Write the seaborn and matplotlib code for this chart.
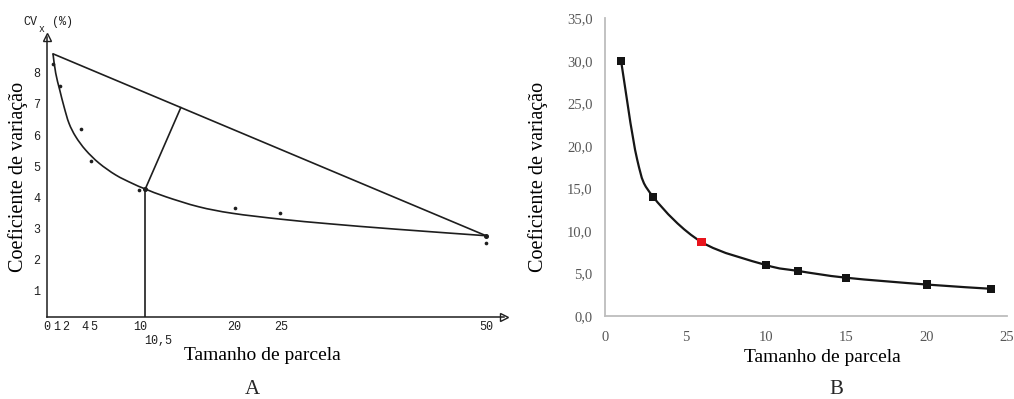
import numpy as np
import matplotlib
matplotlib.use("Agg")
import matplotlib.pyplot as plt
from matplotlib.path import Path
from matplotlib.patches import PathPatch
import seaborn as sns

# ---------------- Panel A: maximum-curvature method (typewritten scan) ----------------
a_plot_size = [0.64, 1.39, 3.67, 4.67, 9.83, 20.05, 24.9, 50.0]
a_cv = [8.27, 7.58, 6.19, 5.17, 4.24, 3.65, 3.49, 2.55]

# fitted CV curve
a_curve_x = [0.64, 0.93, 1.36, 1.82, 2.35, 3.07, 4.13, 5.56, 7.34, 9.11, 10.5,
             12.7, 16.2, 19.8, 25.0, 31.0, 39.0, 50.0]
a_curve_y = [8.61, 7.99, 7.45, 6.91, 6.38, 5.95, 5.52, 5.10, 4.72, 4.45, 4.27,
             4.02, 3.70, 3.49, 3.30, 3.15, 2.98, 2.77]

a_opt_x = 10.5          # optimum plot size
a_opt_cv = 4.27
a_chord_foot_x = 14.3   # where the perpendicular meets the chord

a_xticks = [0, 1, 2, 4, 5, 10, 20, 25, 50]
a_xticklabels = ["0", "1", "2", "4", "5", "10", "20", "25", "50"]
a_opt_label = "10,5"
a_yticks = [1, 2, 3, 4, 5, 6, 7, 8]

# ---------------- Panel B: smoothed CV curve ----------------
b_plot_size = [1, 2, 3, 6, 10, 12, 15, 20, 24]
b_cv = [30.0, 18.4, 14.0, 8.7, 6.0, 5.3, 4.5, 3.7, 3.2]
b_marked = [True, False, True, True, True, True, True, True, True]
b_optimum_size = 6
b_yticks = [0, 5, 10, 15, 20, 25, 30, 35]
b_xticks = [0, 5, 10, 15, 20, 25]

xlabel = "Tamanho de parcela"
ylabel = "Coeficiente de variação"

sns.set_style("white")
serif = ["Liberation Serif", "DejaVu Serif"]
mono = ["Liberation Mono", "DejaVu Sans Mono"]
plt.rcParams["font.family"] = serif

W, H = 1014, 399
fig = plt.figure(figsize=(W / 100, H / 100), dpi=100)


def px_box(left, top, right, bottom):
    return [left / W, 1 - bottom / H, (right - left) / W, (bottom - top) / H]


def smooth_path(xs, ys, fx=lambda v: v, ix=lambda v: v):
    """Cubic Bezier path through the points (Catmull-Rom tangents)."""
    pts = np.column_stack([fx(np.asarray(xs, float)), np.asarray(ys, float)])
    n = len(pts)
    verts = [pts[0]]
    codes = [Path.MOVETO]
    for i in range(n - 1):
        p_prev = pts[max(i - 1, 0)]
        p_next2 = pts[min(i + 2, n - 1)]
        c1 = pts[i] + (pts[i + 1] - p_prev) / 6
        c2 = pts[i + 1] - (p_next2 - pts[i]) / 6
        verts += [c1, c2, pts[i + 1]]
        codes += [Path.CURVE4] * 3
    verts = np.array(verts)
    verts[:, 0] = ix(verts[:, 0])
    return Path(verts, codes)


# ======================= Panel A =======================
K = 9.36 / 8.2  # hand-drawn axis: wider spacing up to 25, tighter after


def fwd(x):
    x = np.asarray(x, dtype=float)
    return np.where(x <= 25, x * K, 25 * K + (x - 25))


def inv(u):
    u = np.asarray(u, dtype=float)
    return np.where(u <= 25 * K, u / K, u - 25 * K + 25)


axA = fig.add_axes(px_box(47, 37, 504, 317))
axA.set_xscale("function", functions=(fwd, inv))
axA.set_xlim(0, 52.2)
axA.set_ylim(0.16, 9.15)

ink = "#1e1e1e"
axA.add_patch(PathPatch(smooth_path(a_curve_x, a_curve_y, fwd, inv),
                        fill=False, edgecolor=ink, lw=1.2))

# chord joining the curve's end points
x0, y0 = a_curve_x[0], a_curve_y[0]
x1, y1 = a_curve_x[-1], a_curve_y[-1]
sns.lineplot(x=[x0, x1], y=[y0, y1], ax=axA, color=ink, lw=1.2)

# foot of the perpendicular on the chord (chord is straight in scale space)
t = (fwd(a_chord_foot_x) - fwd(x0)) / (fwd(x1) - fwd(x0))
foot_y = float(y0 + t * (y1 - y0))
axA.plot([a_opt_x, a_chord_foot_x], [a_opt_cv, foot_y], color=ink, lw=1.2)
axA.plot([a_opt_x, a_opt_x], [axA.get_ylim()[0], a_opt_cv], color=ink, lw=1.2)

sns.scatterplot(x=a_plot_size, y=a_cv, ax=axA, color=ink, s=7, linewidth=0)
axA.plot([a_opt_x, x1], [a_opt_cv, y1], ls="none", marker="o", ms=2.6,
         color=ink)

for side in ("top", "right"):
    axA.spines[side].set_visible(False)
for side in ("left", "bottom"):
    axA.spines[side].set_color(ink)
    axA.spines[side].set_linewidth(1.1)

axA.set_xticks(a_xticks + [a_opt_x])
axA.set_xticklabels(a_xticklabels + [""])
axA.set_yticks(a_yticks)
axA.set_yticklabels([str(v) for v in a_yticks])
axA.tick_params(axis="both", direction="in", length=3, width=0.8,
                colors=ink, labelsize=8.5)
axA.tick_params(axis="x", pad=3)
axA.tick_params(axis="y", pad=5)
for lab in axA.get_xticklabels() + axA.get_yticklabels():
    lab.set_family(mono)

# label of the optimum plot size, on a second row under the axis
axA.annotate(a_opt_label, xy=(a_opt_x, 0), xycoords=("data", "axes fraction"),
             xytext=(-1, -13), textcoords="offset points", ha="left", va="top",
             family=mono, fontsize=8.5, color=ink)

# hollow arrow heads at the axis ends
axA.plot(0, 1, marker="^", ms=6, mfc="white", mec=ink, mew=1.0,
         transform=axA.transAxes, clip_on=False)
axA.plot(1, 0, marker=">", ms=6, mfc="white", mec=ink, mew=1.0,
         transform=axA.transAxes, clip_on=False)

fig.text(30 / W, 1 - 22 / H, "CV", family=mono, fontsize=8.5, color=ink,
         ha="center", va="center")
fig.text(41 / W, 1 - 29 / H, "x", family=mono, fontsize=7, color=ink,
         ha="center", va="center")
fig.text(62 / W, 1 - 22 / H, "(%)", family=mono, fontsize=8.5, color=ink,
         ha="center", va="center")

axA.set_xlabel(xlabel, fontsize=14, color="black", va="center")
axA.set_ylabel(ylabel, fontsize=14.5, color="black", va="center")
axA.xaxis.set_label_coords((262 - 47) / 457, (317 - 356) / 280)
axA.yaxis.set_label_coords((18 - 47) / 457, (317 - 177) / 280)

# ======================= Panel B =======================
axB = fig.add_axes(px_box(605, 18.3, 1007, 316))
axB.set_xlim(0, 25)
axB.set_ylim(0, 35)

axB.add_patch(PathPatch(smooth_path(b_plot_size, b_cv), fill=False,
                        edgecolor="#161616", lw=1.6, zorder=2))

mx = [x for x, m in zip(b_plot_size, b_marked) if m]
my = [y for y, m in zip(b_cv, b_marked) if m]
colors = ["#e8141c" if x == b_optimum_size else "#141414" for x in mx]
sns.scatterplot(x=mx, y=my, ax=axB, marker="s", s=34, c=colors,
                linewidth=0, zorder=3)

grey = "#bdbdbd"
for side in ("top", "right"):
    axB.spines[side].set_visible(False)
for side in ("left", "bottom"):
    axB.spines[side].set_color(grey)
    axB.spines[side].set_linewidth(1.3)

axB.set_xticks(b_xticks)
axB.set_xticklabels([str(v) for v in b_xticks])
axB.set_yticks(b_yticks)
axB.set_yticklabels([f"{v:.1f}".replace(".", ",") for v in b_yticks])
axB.tick_params(axis="both", direction="out", length=4, width=1.0,
                color=grey, labelcolor="#575757", labelsize=10.5)
axB.tick_params(axis="x", pad=6.5)
axB.tick_params(axis="y", pad=5)

axB.set_xlabel(xlabel, fontsize=14, color="black", va="center")
axB.set_ylabel(ylabel, fontsize=14.5, color="black", va="center")
axB.xaxis.set_label_coords((822 - 605) / 402, (316 - 357) / 297.7)
axB.yaxis.set_label_coords((538 - 605) / 402, (316 - 177) / 297.7)

# panel letters
fig.text(252 / W, 1 - 390 / H, "A", fontsize=15, ha="center", va="center")
fig.text(836 / W, 1 - 390 / H, "B", fontsize=15, ha="center", va="center")

fig.savefig("out.png", dpi=100, facecolor="white")
